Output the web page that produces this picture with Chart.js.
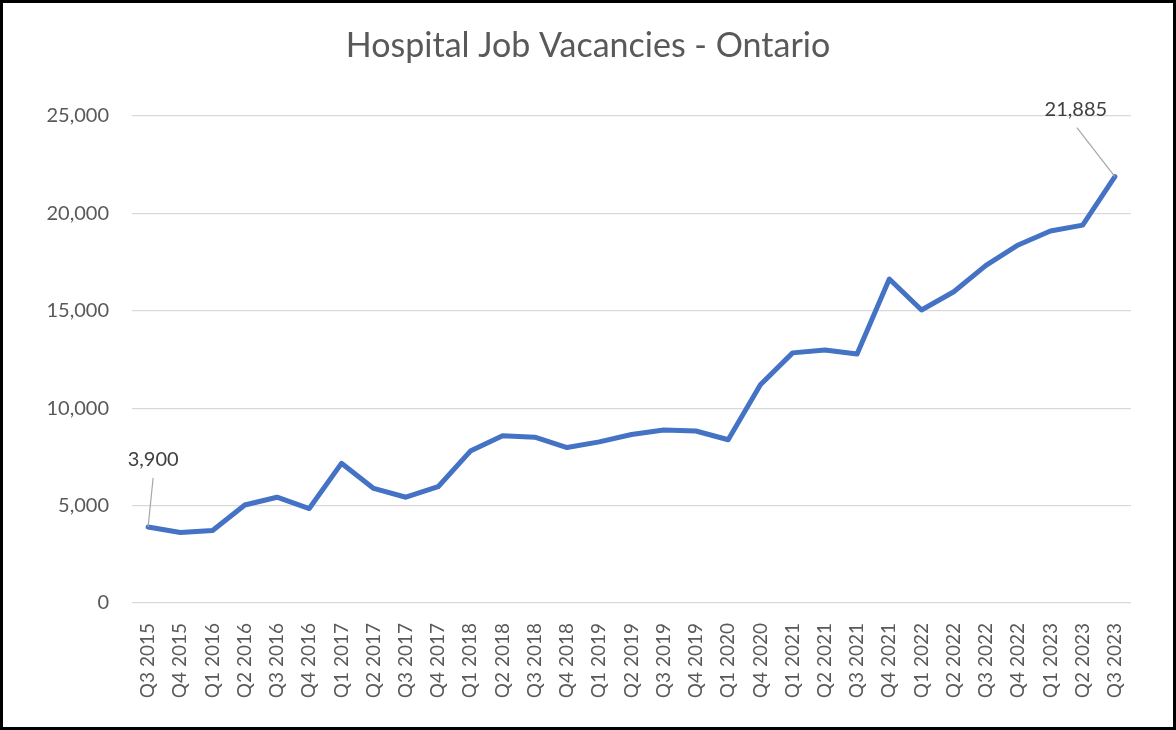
<!DOCTYPE html>
<html>
<head>
<meta charset="utf-8">
<script src="https://cdn.jsdelivr.net/npm/chart.js@4/dist/chart.umd.min.js"></script>
<style>
html,body{margin:0;padding:0;background:#fff;}
#wrap{position:relative;width:1176px;height:730px;}
</style>
</head>
<body>
<div id="wrap"><canvas id="c" width="1176" height="730"></canvas></div>
<script>
const chartTitle = 'Hospital Job Vacancies - Ontario';
const categories = ["Q3 2015","Q4 2015","Q1 2016","Q2 2016","Q3 2016","Q4 2016","Q1 2017","Q2 2017","Q3 2017","Q4 2017","Q1 2018","Q2 2018","Q3 2018","Q4 2018","Q1 2019","Q2 2019","Q3 2019","Q4 2019","Q1 2020","Q4 2020","Q1 2021","Q2 2021","Q3 2021","Q4 2021","Q1 2022","Q2 2022","Q3 2022","Q4 2022","Q1 2023","Q2 2023","Q3 2023"];
const vacancies = [3900,3620,3720,5030,5430,4850,7170,5880,5430,5970,7800,8590,8510,7980,8270,8650,8880,8830,8380,11200,12840,12990,12780,16630,15040,15980,17330,18380,19100,19400,21885];
const labelledIndices = [0, 30];
const yTicks = [0,5000,10000,15000,20000,25000];

const fontFamily = "Lato, 'Open Sans', sans-serif";

const dataLabelPlugin = {
  id: 'dataLabels',
  afterDatasetsDraw(chart) {
    const ctx = chart.ctx;
    const meta = chart.getDatasetMeta(0);
    const offsets = {0: {lx: 5, ly: -49, tx: 5, ty: -67}, 30: {lx: -38, ly: -49, tx: -39, ty: -67}};
    ctx.save();
    labelledIndices.forEach(i => {
      const p = meta.data[i];
      const o = offsets[i];
      ctx.strokeStyle = '#a6a6a6';
      ctx.lineWidth = 1.2;
      ctx.beginPath();
      ctx.moveTo(p.x, p.y);
      ctx.lineTo(p.x + o.lx, p.y + o.ly);
      ctx.stroke();
      ctx.fillStyle = '#404040';
      ctx.font = "20px " + fontFamily;
      ctx.textAlign = 'center';
      ctx.textBaseline = 'middle';
      ctx.fillText(vacancies[i].toLocaleString('en-US'), p.x + o.tx, p.y + o.ty);
    });
    ctx.restore();
  }
};

const framePlugin = {
  id: 'frame',
  afterDraw(chart) {
    const ctx = chart.ctx;
    ctx.save();
    ctx.fillStyle = '#595959';
    ctx.font = "34px " + fontFamily;
    ctx.textAlign = 'center';
    ctx.textBaseline = 'middle';
    ctx.fillText(chartTitle, chart.width / 2, 46);
    ctx.strokeStyle = '#000';
    ctx.lineWidth = 3;
    ctx.strokeRect(1.5, 1.5, chart.width - 3, chart.height - 3);
    ctx.restore();
  }
};

new Chart(document.getElementById('c'), {
  type: 'line',
  data: {
    labels: categories,
    datasets: [{
      data: vacancies,
      borderColor: '#4472C4',
      borderWidth: 5,
      pointRadius: 0,
      pointHoverRadius: 0,
      tension: 0,
      fill: false,
      borderJoinStyle: 'round',
      borderCapStyle: 'round'
    }]
  },
  options: {
    responsive: false,
    animation: false,
    devicePixelRatio: 1,
    layout: {padding: {left: 0, right: 45, top: 116, bottom: 0}},
    plugins: {
      legend: {display: false},
      tooltip: {enabled: false},
      title: {display: false}
    },
    scales: {
      x: {
        offset: true,
        grid: {display: false},
        border: {display: false},
        ticks: {
          color: '#595959',
          font: {family: fontFamily, size: 19},
          maxRotation: 90,
          minRotation: 90,
          autoSkip: false,
          padding: 12
        },
        afterFit(scale) { scale.height = 127; }
      },
      y: {
        min: 0,
        max: 25000,
        afterBuildTicks(scale) { scale.ticks = yTicks.map(v => ({value: v})); },
        grid: {color: '#d9d9d9', lineWidth: 1.3, drawTicks: false},
        border: {display: false},
        ticks: {
          color: '#595959',
          font: {family: fontFamily, size: 20},
          padding: 23,
          callback: v => v.toLocaleString('en-US')
        },
        afterFit(scale) { scale.width = 132; }
      }
    }
  },
  plugins: [dataLabelPlugin, framePlugin]
});
</script>
</body>
</html>
